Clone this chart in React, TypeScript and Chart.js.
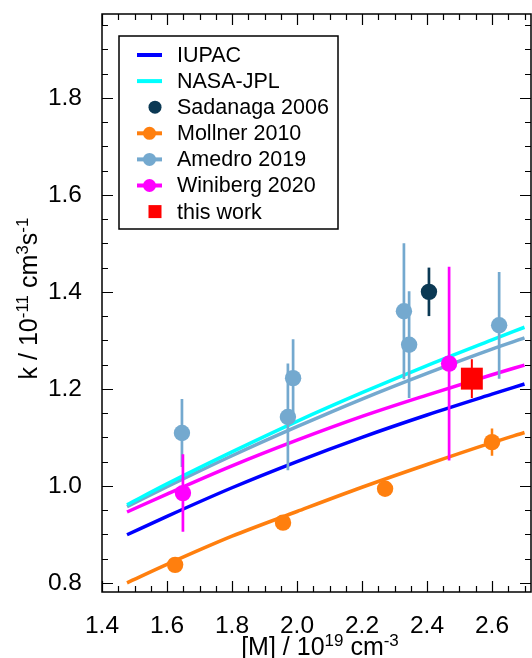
import React, { useEffect, useRef } from "react";
import { Chart, registerables } from "chart.js";

Chart.register(...registerables);

const FONT = "'Liberation Sans', Arial, Helvetica, sans-serif";

// Axes
const X_MIN = 1.4;
const X_MAX = 2.72;
const Y_MIN = 0.781;
const Y_MAX = 1.973;
const X_TICKS = [1.4, 1.6, 1.8, 2.0, 2.2, 2.4, 2.6];
const Y_TICKS = [0.8, 1.0, 1.2, 1.4, 1.6, 1.8];
const MINOR_STEP = 0.05;

// Axis titles: [text, isSuperscript]
const X_TITLE: [string, boolean][] = [["[M] / 10", false], ["19", true], [" cm", false], ["-3", true]];
const Y_TITLE: [string, boolean][] = [["k / 10", false], ["-11", true], [" cm", false], ["3", true], ["s", false], ["-1", true]];

// Fit / recommended curves ([M] in 1e19 cm^-3, k in 1e-11 cm3 s-1)
const CURVE_M = [1.477, 1.6, 1.8, 2.0, 2.2, 2.4, 2.6, 2.7];
const IUPAC_K = [0.899, 0.937, 0.996, 1.05, 1.1, 1.146, 1.189, 1.21];
const NASA_K = [0.961, 1.004, 1.07, 1.133, 1.192, 1.248, 1.301, 1.327];
const AMEDRO_FIT_K = [0.957, 0.998, 1.062, 1.122, 1.179, 1.232, 1.282, 1.305];
const WINIBERG_FIT_K = [0.946, 0.983, 1.041, 1.094, 1.143, 1.187, 1.229, 1.249];
const MOLLNER_FIT_K = [0.8, 0.838, 0.896, 0.947, 0.997, 1.044, 1.089, 1.11];

// Measurements
const SADANAGA_M = [2.406];
const SADANAGA_K = [1.4];
const SADANAGA_ERR = [0.05];

const MOLLNER_M = [1.625, 1.957, 2.271, 2.6];
const MOLLNER_K = [0.837, 0.924, 0.994, 1.09];
const MOLLNER_ERR = [0.01, 0.01, 0.01, 0.028];

const AMEDRO_M = [1.646, 1.972, 1.988, 2.329, 2.345, 2.622];
const AMEDRO_K = [1.109, 1.142, 1.222, 1.36, 1.291, 1.331];
const AMEDRO_ERR = [0.07, 0.11, 0.08, 0.14, 0.11, 0.11];

const WINIBERG_M = [1.649, 2.468];
const WINIBERG_K = [0.985, 1.252];
const WINIBERG_ERR = [0.08, 0.2];

const THIS_M = [2.538];
const THIS_K = [1.221];
const THIS_ERR = [0.04];

const LEGEND_LABELS = ["IUPAC", "NASA-JPL", "Sadanaga 2006", "Mollner 2010", "Amedro 2019", "Winiberg 2020", "this work"];

const C_IUPAC = "#0000ff";
const C_NASA = "#00ffff";
const C_SADANAGA = "#0b3954";
const C_MOLLNER = "#ff7f0e";
const C_AMEDRO = "#74a9cf";
const C_WINIBERG = "#ff00ff";
const C_THIS = "#ff0000";

function curve(label: string, ks: number[], color: string, order: number) {
  return {
    label,
    data: CURVE_M.map((x, i) => ({ x, y: ks[i] })),
    showLine: true,
    borderColor: color,
    backgroundColor: color,
    borderWidth: 3.5,
    pointRadius: 0,
    pointHoverRadius: 0,
    cubicInterpolationMode: "monotone",
    fill: false,
    order,
  };
}

function points(label: string, xs: number[], ks: number[], es: number[], color: string, style: string, radius: number, errWidth: number) {
  return {
    label,
    data: xs.map((x, i) => ({ x, y: ks[i], e: es[i] })),
    showLine: false,
    borderColor: color,
    backgroundColor: color,
    borderWidth: 0,
    pointStyle: style,
    pointRadius: radius,
    pointHoverRadius: radius,
    errWidth,
    order: 0,
  };
}

function drawComposite(ctx: CanvasRenderingContext2D, parts: [string, boolean][], cx: number, baseline: number, main: number, sup: number, raise: number) {
  let total = 0;
  const widths = parts.map(([t, s]) => {
    ctx.font = `${s ? sup : main}px ${FONT}`;
    const w = ctx.measureText(t).width;
    total += w;
    return w;
  });
  let x = cx - total / 2;
  ctx.textAlign = "left";
  ctx.textBaseline = "alphabetic";
  parts.forEach(([t, s], i) => {
    ctx.font = `${s ? sup : main}px ${FONT}`;
    ctx.fillText(t, x, baseline - (s ? raise : 0));
    x += widths[i];
  });
}

const errorBars = {
  id: "errorBars",
  beforeDatasetDraw(chart: any, args: any) {
    const ds = chart.data.datasets[args.index];
    if (ds.showLine) return;
    const { ctx } = chart;
    const xs = chart.scales.x;
    const ys = chart.scales.y;
    ctx.save();
    ctx.strokeStyle = ds.borderColor;
    ctx.lineWidth = ds.errWidth;
    ctx.beginPath();
    ds.data.forEach((p: any) => {
      if (!p.e) return;
      const px = xs.getPixelForValue(p.x);
      ctx.moveTo(px, ys.getPixelForValue(p.y + p.e));
      ctx.lineTo(px, ys.getPixelForValue(p.y - p.e));
    });
    ctx.stroke();
    ctx.restore();
  },
};

const frameAndDecor = {
  id: "frameAndDecor",
  afterDraw(chart: any) {
    const { ctx, chartArea: a } = chart;
    const xs = chart.scales.x;
    const ys = chart.scales.y;
    ctx.save();
    // frame
    ctx.strokeStyle = "#000";
    ctx.lineWidth = 1.5;
    ctx.strokeRect(a.left, a.top, a.right - a.left, a.bottom - a.top);
    // ticks
    ctx.lineWidth = 1.2;
    ctx.beginPath();
    const isMajor = (v: number, list: number[]) => list.some((t) => Math.abs(t - v) < 1e-6);
    for (let i = Math.ceil(xs.min / MINOR_STEP - 1e-6); i <= Math.floor(xs.max / MINOR_STEP + 1e-6); i++) {
      const v = i * MINOR_STEP;
      const L = isMajor(v, X_TICKS) ? 11 : 6;
      const px = Math.round(xs.getPixelForValue(v)) + 0.5;
      ctx.moveTo(px, a.bottom);
      ctx.lineTo(px, a.bottom - L);
      ctx.moveTo(px, a.top);
      ctx.lineTo(px, a.top + L);
    }
    for (let i = Math.ceil(ys.min / MINOR_STEP - 1e-6); i <= Math.floor(ys.max / MINOR_STEP + 1e-6); i++) {
      const v = i * MINOR_STEP;
      const L = isMajor(v, Y_TICKS) ? 11 : 6;
      const py = Math.round(ys.getPixelForValue(v)) + 0.5;
      ctx.moveTo(a.left, py);
      ctx.lineTo(a.left + L, py);
      ctx.moveTo(a.right, py);
      ctx.lineTo(a.right - L, py);
    }
    ctx.stroke();

    // axis titles
    ctx.fillStyle = "#000";
    drawComposite(ctx, X_TITLE, 320, 655, 25, 17, 9);
    ctx.save();
    ctx.translate(37, 298.5);
    ctx.rotate(-Math.PI / 2);
    drawComposite(ctx, Y_TITLE, 0, 0, 25, 17, 9);
    ctx.restore();

    // legend
    const bx = 119, by = 36, bw = 219, bh = 193;
    ctx.fillStyle = "#fff";
    ctx.fillRect(bx, by, bw, bh);
    ctx.strokeStyle = "#000";
    ctx.lineWidth = 1.5;
    ctx.strokeRect(bx, by, bw, bh);
    const datasets = chart.data.datasets;
    LEGEND_LABELS.forEach((label, i) => {
      const y = 55 + i * 26.1;
      const lineDs = datasets.find((d: any) => d.label === label && d.showLine);
      const ptDs = datasets.find((d: any) => d.label === label && !d.showLine);
      if (lineDs) {
        ctx.strokeStyle = lineDs.borderColor;
        ctx.lineWidth = 4;
        ctx.beginPath();
        ctx.moveTo(137, y);
        ctx.lineTo(162, y);
        ctx.stroke();
      }
      if (ptDs) {
        const cx = lineDs ? 149.5 : 155;
        ctx.fillStyle = ptDs.backgroundColor;
        if (ptDs.pointStyle === "rect") {
          ctx.fillRect(cx - 6.5, y - 6.5, 13, 13);
        } else {
          ctx.beginPath();
          ctx.arc(cx, y, 6.5, 0, Math.PI * 2);
          ctx.fill();
        }
      }
      ctx.fillStyle = "#000";
      ctx.font = `21.5px ${FONT}`;
      ctx.textAlign = "left";
      ctx.textBaseline = "middle";
      ctx.fillText(label, 177, y + 1);
    });
    ctx.restore();
  },
};

const noPad = (s: any) => {
  s.paddingTop = 0;
  s.paddingBottom = 0;
  s.paddingLeft = 0;
  s.paddingRight = 0;
};

export default function App() {
  const ref = useRef<HTMLCanvasElement | null>(null);
  useEffect(() => {
    if (!ref.current) return;
    const chart = new Chart(ref.current, {
      type: "scatter",
      data: {
        datasets: [
          curve("Mollner 2010", MOLLNER_FIT_K, C_MOLLNER, 10),
          curve("Winiberg 2020", WINIBERG_FIT_K, C_WINIBERG, 11),
          curve("IUPAC", IUPAC_K, C_IUPAC, 12),
          curve("NASA-JPL", NASA_K, C_NASA, 13),
          curve("Amedro 2019", AMEDRO_FIT_K, C_AMEDRO, 14),
          points("this work", THIS_M, THIS_K, THIS_ERR, C_THIS, "rect", 15.5, 2),
          points("Winiberg 2020", WINIBERG_M, WINIBERG_K, WINIBERG_ERR, C_WINIBERG, "circle", 8.2, 2.7),
          points("Sadanaga 2006", SADANAGA_M, SADANAGA_K, SADANAGA_ERR, C_SADANAGA, "circle", 8.2, 2.7),
          points("Mollner 2010", MOLLNER_M, MOLLNER_K, MOLLNER_ERR, C_MOLLNER, "circle", 8.2, 2.5),
          points("Amedro 2019", AMEDRO_M, AMEDRO_K, AMEDRO_ERR, C_AMEDRO, "circle", 8.2, 2.7),
        ] as any,
      },
      options: {
        animation: false,
        responsive: false,
        layout: { autoPadding: false, padding: { top: 14, right: 1, left: 0, bottom: 0 } },
        plugins: { legend: { display: false }, tooltip: { enabled: false } },
        scales: {
          x: {
            type: "linear",
            min: X_MIN,
            max: X_MAX,
            afterBuildTicks: (s: any) => {
              s.ticks = X_TICKS.map((v) => ({ value: v }));
            },
            afterFit: (s: any) => {
              s.height = 66;
              noPad(s);
            },
            grid: { display: false },
            border: { display: false },
            ticks: {
              autoSkip: false,
              maxRotation: 0,
              padding: 12,
              color: "#000",
              font: { family: FONT, size: 24.5 },
              callback: (v: any) => Number(v).toFixed(1),
            },
          },
          y: {
            type: "linear",
            min: Y_MIN,
            max: Y_MAX,
            afterBuildTicks: (s: any) => {
              s.ticks = Y_TICKS.map((v) => ({ value: v }));
            },
            afterFit: (s: any) => {
              s.width = 102;
              noPad(s);
            },
            grid: { display: false },
            border: { display: false },
            ticks: {
              autoSkip: false,
              padding: 12,
              color: "#000",
              font: { family: FONT, size: 24.5 },
              callback: (v: any) => Number(v).toFixed(1),
            },
          },
        },
      },
      plugins: [errorBars, frameAndDecor],
    });
    return () => chart.destroy();
  }, []);
  return (
    <canvas
      ref={ref}
      width={532}
      height={658}
      style={{ position: "fixed", left: 0, top: 0, width: 532, height: 658, display: "block", background: "#fff" }}
    />
  );
}
